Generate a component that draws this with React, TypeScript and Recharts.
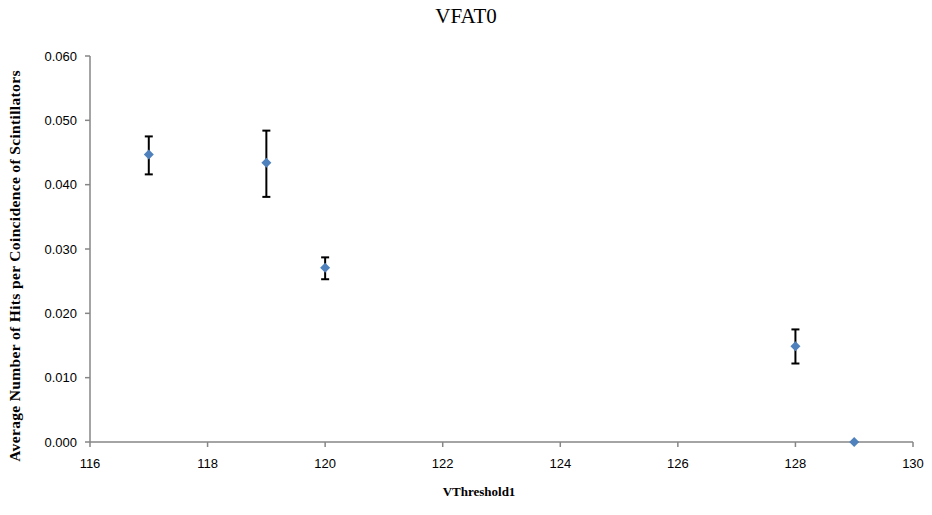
import { ErrorBar, Scatter, ScatterChart, XAxis, YAxis } from "recharts";

// VThreshold1 values
const thresholds = [117, 119, 120, 128, 129];
// average hits per coincidence
const avgHits = [0.0447, 0.0434, 0.0271, 0.0149, 0.0];
// error bar extents (below, above)
const errBelow = [0.0031, 0.0053, 0.0018, 0.0027, 0];
const errAbove = [0.0028, 0.005, 0.0016, 0.0026, 0];

const xTicks = [116, 118, 120, 122, 124, 126, 128, 130];
const yTicks = [0, 0.01, 0.02, 0.03, 0.04, 0.05, 0.06];

const data = thresholds.map((x, i) => ({
  x,
  y: avgHits[i],
  err: [errBelow[i], errAbove[i]],
}));

const AXIS = "#868686";
const tickStyle = { fontFamily: "'Liberation Sans', Arial, sans-serif", fontSize: 13, fill: "#000" };

// square-ish diamond like the Excel marker
const Diamond = (props: any) => {
  const { cx, cy } = props;
  const r = 5;
  return (
    <polygon
      points={`${cx},${cy - r} ${cx + r},${cy} ${cx},${cy + r} ${cx - r},${cy}`}
      fill="#4F81BD"
    />
  );
};

export default function App() {
  return (
    <div style={{ position: "absolute", left: 0, top: 0, width: 932, height: 515, background: "#fff" }}>
      <div
        style={{
          position: "absolute",
          top: 4,
          left: 0,
          width: 932,
          textAlign: "center",
          fontFamily: "'Liberation Serif', 'Times New Roman', serif",
          fontSize: 21,
        }}
      >
        VFAT0
      </div>
      <div
        style={{
          position: "absolute",
          left: 15,
          top: 266,
          transform: "translate(-50%, -50%) rotate(-90deg)",
          whiteSpace: "nowrap",
          fontFamily: "'Liberation Serif', 'Times New Roman', serif",
          fontWeight: "bold",
          fontSize: 15.5,
          letterSpacing: 0.35,
        }}
      >
        Average Number of Hits per Coincidence of Scintillators
      </div>
      <div
        style={{
          position: "absolute",
          left: 479,
          top: 492,
          transform: "translate(-50%, -50%)",
          whiteSpace: "nowrap",
          fontFamily: "'Liberation Serif', 'Times New Roman', serif",
          fontWeight: "bold",
          fontSize: 13,
        }}
      >
        VThreshold1
      </div>
      <ScatterChart width={932} height={515} margin={{ top: 56, right: 19, bottom: 0, left: 0 }}>
        <XAxis
          type="number"
          dataKey="x"
          domain={[116, 130]}
          ticks={xTicks}
          height={73}
          stroke={AXIS}
          strokeWidth={1.5}
          tickSize={5}
          tickMargin={12}
          tick={tickStyle}
          allowDataOverflow
        />
        <YAxis
          type="number"
          dataKey="y"
          domain={[0, 0.06]}
          ticks={yTicks}
          width={90}
          stroke={AXIS}
          strokeWidth={1.5}
          tickSize={5}
          tickMargin={8}
          tick={tickStyle}
          tickFormatter={(v: number) => v.toFixed(3)}
        />
        <Scatter data={data} shape={Diamond} isAnimationActive={false}>
          <ErrorBar dataKey="err" direction="y" width={4} stroke="#000" strokeWidth={2} isAnimationActive={false} />
        </Scatter>
      </ScatterChart>
    </div>
  );
}
